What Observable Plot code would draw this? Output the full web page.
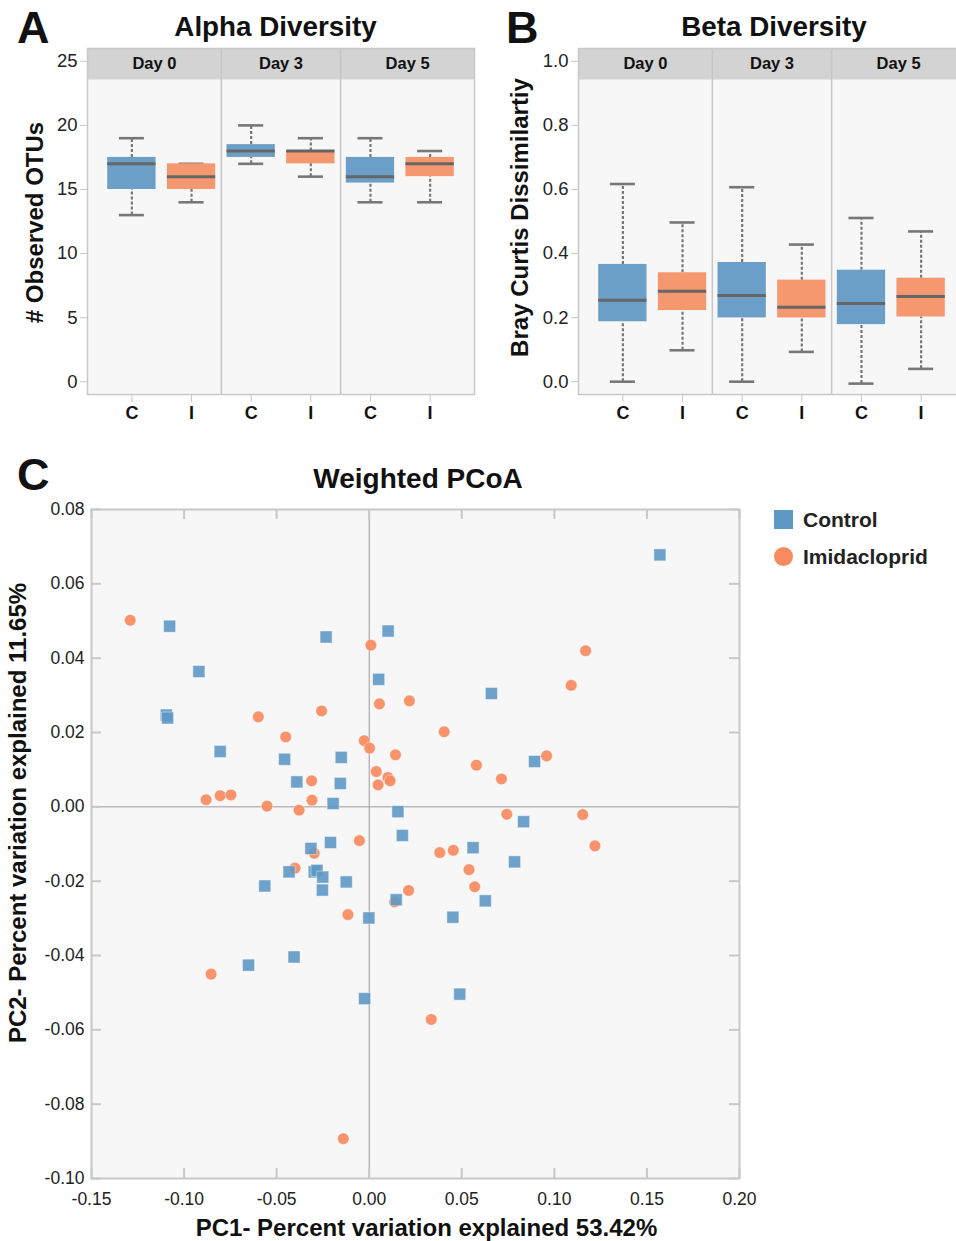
<!DOCTYPE html>
<html>
<head>
<meta charset="utf-8">
<script src="https://cdn.jsdelivr.net/npm/d3@7"></script>
<script src="https://cdn.jsdelivr.net/npm/@observablehq/plot@0.6"></script>
<style>
  html, body { margin: 0; padding: 0; background: #fff; }
  body { width: 956px; height: 1241px; overflow: hidden; position: relative;
         font-family: "Liberation Sans", Arial, Helvetica, sans-serif; color: #111; }
  .abs { position: absolute; line-height: 1; white-space: nowrap; }
  .letter { font-size: 45px; font-weight: bold; }
  .ptitle { font-size: 27.8px; font-weight: bold; text-align: center; }
  .leg { font-size: 21px; font-weight: bold; color: #222; }
  .sw { position: absolute; width: 19px; height: 19px; }
</style>
</head>
<body>
<div id="A" class="abs" style="left:0;top:0;width:480px;height:430px;"></div>
<div id="B" class="abs" style="left:480px;top:0;width:490px;height:430px;"></div>
<div id="C" class="abs" style="left:0;top:440px;width:956px;height:801px;"></div>

<div class="abs letter" style="left:17px;top:5px;">A</div>
<div class="abs letter" style="left:506px;top:5px;">B</div>
<div class="abs letter" style="left:17px;top:452px;">C</div>
<div class="abs ptitle" style="left:165px;top:13px;width:221px;">Alpha Diversity</div>
<div class="abs ptitle" style="left:664px;top:13px;width:220px;">Beta Diversity</div>
<div class="abs ptitle" style="left:298px;top:465px;width:240px;font-size:28px;">Weighted PCoA</div>

<div id="legend">
  <div class="sw" id="swC" style="left:774px;top:510px;"></div>
  <div class="abs leg" style="left:803px;top:509px;">Control</div>
  <div class="sw" id="swI" style="left:774px;top:547px;border-radius:50%;"></div>
  <div class="abs leg" style="left:803px;top:546px;">Imidacloprid</div>
</div>

<script>
// ---------------- data ----------------
const days = ["Day 0", "Day 3", "Day 5"];
const groups = ["C", "I"];
const treatments = ["Control", "Imidacloprid"];

// box order: Day0 C, Day0 I, Day3 C, Day3 I, Day5 C, Day5 I
const alphaMin    = [13, 14, 17, 16, 14, 14];
const alphaQ1     = [15, 15, 17.5, 17, 15.5, 16];
const alphaMedian = [17, 16, 18, 18, 16, 17];
const alphaQ3     = [17.5, 17, 18.5, 18, 17.5, 17.5];
const alphaMax    = [19, 17, 20, 19, 19, 18];

const betaMin    = [0.000, 0.098, 0.000, 0.093, -0.006, 0.040];
const betaQ1     = [0.187, 0.222, 0.199, 0.199, 0.178, 0.202];
const betaMedian = [0.254, 0.282, 0.269, 0.232, 0.244, 0.266];
const betaQ3     = [0.366, 0.340, 0.372, 0.317, 0.348, 0.323];
const betaMax    = [0.617, 0.497, 0.607, 0.428, 0.511, 0.469];

const alphaTicks = [0, 5, 10, 15, 20, 25];
const betaTicks = [0, 0.2, 0.4, 0.6, 0.8, 1.0];

// PCoA coordinates
const controlPC1 = [-0.1078, -0.0920, -0.1096, -0.1089, -0.0805, -0.0233, 0.0051, 0.0102, 0.0660, -0.0457,
  -0.0151, -0.0391, -0.0156, -0.0195, 0.0893, 0.0155, 0.0834, 0.0179, 0.0561, 0.0785,
  0.0627, 0.0452, 0.0146, 0.0489, -0.0002, -0.0025, -0.0209, -0.0315, -0.0433, -0.0297,
  -0.0282, -0.0251, -0.0253, -0.0124, -0.0564, -0.0406, -0.0652, 0.1570];
const controlPC2 = [0.0486, 0.0364, 0.0247, 0.0239, 0.0149, 0.0457, 0.0343, 0.0473, 0.0305, 0.0128,
  0.0133, 0.0067, 0.0063, 0.0009, 0.0122, -0.0013, -0.0040, -0.0077, -0.0110, -0.0148,
  -0.0253, -0.0297, -0.0250, -0.0504, -0.0299, -0.0516, -0.0096, -0.0112, -0.0175, -0.0175,
  -0.0171, -0.0189, -0.0224, -0.0202, -0.0213, -0.0404, -0.0426, 0.0678];
const imidPC1 = [-0.1291, -0.0599, -0.0451, -0.0257, 0.0009, 0.0055, -0.0027, 0.0002, 0.0038, 0.0048,
  0.0101, 0.0113, -0.0311, -0.0309, -0.0881, -0.0805, -0.0747, -0.0552, -0.0379, -0.0053,
  -0.0297, -0.0401, -0.0115, -0.0854, -0.0140, 0.0137, 0.0213, 0.0217, 0.0405, 0.0142,
  0.0579, 0.0714, 0.0958, 0.1091, 0.1169, 0.0743, 0.1153, 0.1219, 0.0381, 0.0454,
  0.0539, 0.0570, 0.0335];
const imidPC2 = [0.0502, 0.0242, 0.0188, 0.0258, 0.0435, 0.0277, 0.0178, 0.0158, 0.0095, 0.0059,
  0.0079, 0.0070, 0.0070, 0.0018, 0.0019, 0.0030, 0.0032, 0.0002, -0.0009, -0.0091,
  -0.0125, -0.0165, -0.0290, -0.0450, -0.0893, -0.0256, -0.0225, 0.0285, 0.0202, 0.0140,
  0.0112, 0.0075, 0.0137, 0.0327, 0.0420, -0.0020, -0.0021, -0.0105, -0.0123, -0.0117,
  -0.0169, -0.0215, -0.0572];
const xTicksC = [-0.15, -0.10, -0.05, 0, 0.05, 0.10, 0.15, 0.20];
const yTicksC = [-0.10, -0.08, -0.06, -0.04, -0.02, 0, 0.02, 0.04, 0.06, 0.08];

// ---------------- styles ----------------
const boxColors = ["#6b9fc7", "#f5976f"];
const dotColors = ["#5e98c5", "#f88a60"];
const FONT = '"Liberation Sans", Arial, Helvetica, sans-serif';
document.getElementById("swC").style.background = dotColors[0];
document.getElementById("swI").style.background = dotColors[1];

// ---------------- box panels ----------------
function boxPanel(opts) {
  const {mins, q1s, meds, q3s, maxs, yDomain, yTicks, yFormat, yTitle, width, marginLeft, marginRight, titleDx, titleDy} = opts;
  const height = 430, marginTop = 48, marginBottom = 36;
  const frameH = height - marginTop - marginBottom;
  const xDomain = [-0.744, 2 * days.length - 1 + 0.744];
  const rows = mins.map((_, i) => ({
    idx: i, day: days[Math.floor(i / 2)], group: groups[i % 2],
    min: mins[i], q1: q1s[i], med: meds[i], q3: q3s[i], max: maxs[i]
  }));
  const BW = 0.405, CW = 0.21;
  const dayLeft = (i) => i === 0 ? xDomain[0] : 2 * i - 0.5;
  const dayRight = (i) => i === days.length - 1 ? xDomain[1] : 2 * i + 1.5;
  return Plot.plot({
    width, height, marginTop, marginBottom, marginLeft, marginRight,
    style: {fontFamily: FONT, color: "#222", background: "transparent", maxWidth: "none", overflow: "visible"},
    x: {type: "linear", domain: xDomain},
    y: {domain: yDomain},
    color: {domain: groups, range: boxColors},
    marks: [
      Plot.frame({fill: "#f7f7f7", stroke: null}),
      Plot.frame({fill: "#d3d3d3", stroke: null, insetBottom: frameH - 31}),
      Plot.ruleX(days.slice(1), {x: (d, i) => 2 * (i + 1) - 0.5, stroke: "#c6c6c6", strokeWidth: 1.5}),
      Plot.text(days, {x: (d, i) => (dayLeft(i) + dayRight(i)) / 2, frameAnchor: "top", dy: 15.5,
        lineAnchor: "middle", text: d => d, fontWeight: "bold", fontSize: 16.5, fill: "#111"}),
      // whiskers
      Plot.ruleX(rows, {x: "idx", y1: "q3", y2: "max", stroke: "#777", strokeWidth: 2.2, strokeDasharray: "3,2"}),
      Plot.ruleX(rows, {x: "idx", y1: "min", y2: "q1", stroke: "#777", strokeWidth: 2.2, strokeDasharray: "3,2"}),
      // caps
      Plot.ruleY(rows, {y: "max", x1: d => d.idx - CW, x2: d => d.idx + CW, stroke: "#777", strokeWidth: 2.6}),
      Plot.ruleY(rows, {y: "min", x1: d => d.idx - CW, x2: d => d.idx + CW, stroke: "#777", strokeWidth: 2.6}),
      // boxes
      Plot.rect(rows, {x1: d => d.idx - BW, x2: d => d.idx + BW, y1: "q1", y2: "q3", fill: "group"}),
      // medians
      Plot.ruleY(rows, {y: "med", x1: d => d.idx - BW, x2: d => d.idx + BW, stroke: "#666", strokeWidth: 3}),
      Plot.frame({stroke: "#c8c8c8", strokeWidth: 1.5}),
      Plot.axisY({ticks: yTicks, tickFormat: yFormat, tickSize: 7, tickPadding: 3, fontSize: 18.5,
        stroke: "#c8c8c8", fill: "#222", label: null}),
      Plot.axisX({ticks: d3.range(2 * days.length), tickFormat: i => groups[i % 2], tickSize: 8, tickPadding: 4,
        fontSize: 18, fontWeight: "bold", stroke: "#c8c8c8", fill: "#111", label: null}),
      Plot.text([yTitle], {frameAnchor: "left", dx: titleDx, dy: titleDy, rotate: -90, text: d => d,
        lineAnchor: "middle", fontSize: 24, fontWeight: "bold", fill: "#111", textAnchor: "middle"})
    ]
  });
}

document.getElementById("A").append(boxPanel({
  mins: alphaMin, q1s: alphaQ1, meds: alphaMedian, q3s: alphaQ3, maxs: alphaMax,
  yDomain: [-1, 26], yTicks: alphaTicks, yFormat: d => String(d), yTitle: "# Observed OTUs",
  width: 480, marginLeft: 87, marginRight: 6, titleDx: -52, titleDy: 1
}));
document.getElementById("B").append(boxPanel({
  mins: betaMin, q1s: betaQ1, meds: betaMedian, q3s: betaQ3, maxs: betaMax,
  yDomain: [-0.04, 1.04], yTicks: betaTicks, yFormat: d => d.toFixed(1), yTitle: "Bray Curtis Dissimilartiy",
  width: 490, marginLeft: 98, marginRight: 5, titleDx: -58, titleDy: -4
}));

// ---------------- PCoA ----------------
const control = controlPC1.map((x, i) => ({x, y: controlPC2[i], treatment: treatments[0]}));
const imid = imidPC1.map((x, i) => ({x, y: imidPC2[i], treatment: treatments[1]}));
const Cw = 956, Ch = 801, CmT = 69, CmB = 63, CmL = 91, CmR = 217;
const CfW = Cw - CmL - CmR, CfH = Ch - CmT - CmB;
const fmt2 = d => d.toFixed(2);

document.getElementById("C").append(Plot.plot({
  width: Cw, height: Ch, marginTop: CmT, marginBottom: CmB, marginLeft: CmL, marginRight: CmR,
  style: {fontFamily: FONT, color: "#222", background: "transparent", maxWidth: "none", overflow: "visible"},
  x: {domain: [-0.15, 0.20]},
  y: {domain: [-0.10, 0.08]},
  color: {domain: treatments, range: dotColors},
  marks: [
    Plot.frame({fill: "#f7f7f7", stroke: null}),
    Plot.ruleX([0], {stroke: "#9a9a9a", strokeWidth: 1}),
    Plot.ruleY([0], {stroke: "#9a9a9a", strokeWidth: 1}),
    Plot.tickX(xTicksC, {x: d => d, insetTop: CfH - 10, stroke: "#c8c8c8", strokeWidth: 2}),
    Plot.tickX(xTicksC, {x: d => d, insetBottom: CfH - 10, stroke: "#c8c8c8", strokeWidth: 2}),
    Plot.tickY(yTicksC, {y: d => d, insetRight: CfW - 10, stroke: "#c8c8c8", strokeWidth: 2}),
    Plot.tickY(yTicksC, {y: d => d, insetLeft: CfW - 10, stroke: "#c8c8c8", strokeWidth: 2}),
    Plot.dot(imid, {x: "x", y: "y", fill: "treatment", symbol: "circle", r: 5.8,
      fillOpacity: 0.92, stroke: "#fff", strokeWidth: 0.6, strokeOpacity: 0.7}),
    Plot.dot(control, {x: "x", y: "y", fill: "treatment", symbol: "square", r: 6.77,
      fillOpacity: 0.9, stroke: "#fff", strokeWidth: 0.6, strokeOpacity: 0.7}),
    Plot.frame({stroke: "#c8c8c8", strokeWidth: 2}),
    Plot.axisX({ticks: xTicksC, tickFormat: fmt2, tickSize: 0, tickPadding: 14, fontSize: 17.5, fill: "#222", label: null}),
    Plot.axisY({ticks: yTicksC, tickFormat: fmt2, tickSize: 0, tickPadding: 7, fontSize: 17.5, fill: "#222", label: null}),
    Plot.text(["PC1- Percent variation explained 53.42%"], {frameAnchor: "bottom", dx: 11, dy: 50, lineAnchor: "middle",
      text: d => d, fontSize: 24, fontWeight: "bold", fill: "#111", textAnchor: "middle"}),
    Plot.text(["PC2- Percent variation explained 11.65%"], {frameAnchor: "left", dx: -73, dy: -31, rotate: -90, lineAnchor: "middle",
      text: d => d, fontSize: 24, fontWeight: "bold", fill: "#111", textAnchor: "middle"})
  ]
}));
</script>
</body>
</html>
